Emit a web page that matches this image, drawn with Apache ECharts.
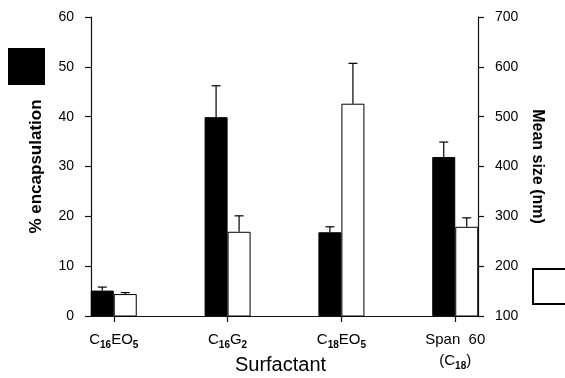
<!DOCTYPE html>
<html>
<head>
<meta charset="utf-8">
<script src="https://cdn.jsdelivr.net/npm/echarts@6/dist/echarts.min.js"></script>
<style>
  html, body { margin: 0; padding: 0; background: #fff; }
  #chart { width: 565px; height: 378px; }
</style>
</head>
<body>
<div id="chart"></div>
<script>
// category positions on the x value axis, and their labels (rich text for subscripts)
const positions = [0, 1, 2, 3];
const tickLabels = [
  '{n|C}{s|16}{n|EO}{s|5}',
  '{n|C}{s|16}{n|G}{s|2}',
  '{n|C}{s|18}{n|EO}{s|5}',
  '{n|Span  60}\n{n|(C}{s|18}{n|)}'
];

// % encapsulation (left axis) and upper error bar tips
const encapsulation = [5.1, 39.9, 16.8, 31.9];
const encapsulationErr = [5.8, 46.2, 17.9, 34.9];

// mean size in nm (right axis) and upper error bar tips
const meanSize = [144, 269, 526, 279];
const meanSizeErr = [147, 301, 607, 297];

const BAR_W = 23;
const font = '"Liberation Sans", Arial, sans-serif';

const chart = echarts.init(document.getElementById('chart'), null, { renderer: 'canvas' });

function errorBars(side) {
  return function (params, api) {
    const x = api.value(0);
    const base = api.coord([x, api.value(1)]);
    const tip = api.coord([x, api.value(2)]);
    const cx = base[0] + side * BAR_W / 2;
    const style = { stroke: '#000', lineWidth: 1.2 };
    return {
      type: 'group',
      children: [
        { type: 'line', shape: { x1: cx, y1: base[1], x2: cx, y2: tip[1] }, style },
        { type: 'line', shape: { x1: cx - 4.5, y1: tip[1], x2: cx + 4.5, y2: tip[1] }, style }
      ]
    };
  };
}

const axisLine = { show: true, onZero: false, lineStyle: { color: '#111', width: 1.2 } };
const axisTick = { show: true, length: 6, lineStyle: { color: '#111', width: 1.2 } };

chart.setOption({
  animation: false,
  backgroundColor: '#fff',
  textStyle: { fontFamily: font, color: '#000' },
  grid: { left: 91, right: 87, top: 17, bottom: 62, outerBoundsMode: 'none', containLabel: false },
  legend: [
    {
      data: ['% encapsulation'],
      left: 8, top: 48, padding: 0,
      icon: 'rect', itemWidth: 35, itemHeight: 35,
      formatter: () => '', selectedMode: false,
      textStyle: { fontSize: 1 }
    },
    {
      data: ['Mean size (nm)'],
      left: 532, top: 268, padding: 0,
      icon: 'rect', itemWidth: 35, itemHeight: 35,
      formatter: () => '', selectedMode: false,
      textStyle: { fontSize: 1 }
    }
  ],
  xAxis: {
    type: 'value',
    min: -0.2,
    max: 3.2,
    name: 'Surfactant',
    nameLocation: 'middle',
    nameGap: 39,
    nameMoveOverlap: false,
    nameTextStyle: { fontSize: 20, color: '#000', fontFamily: font, padding: [0, 8, 0, 0] },
    splitLine: { show: false },
    axisLine: { lineStyle: { color: '#111', width: 1.2 } },
    axisTick: { customValues: positions, length: 6, lineStyle: { color: '#111', width: 1.2 } },
    axisLabel: {
      customValues: positions,
      margin: 13,
      formatter: (v) => tickLabels[Math.round(v)],
      rich: {
        n: { fontSize: 15, color: '#000', fontFamily: font, lineHeight: 21, verticalAlign: 'middle' },
        s: { fontSize: 10, color: '#000', fontFamily: font, fontWeight: 'bold', lineHeight: 14, verticalAlign: 'bottom' }
      }
    }
  },
  yAxis: [
    {
      type: 'value',
      min: 0, max: 60, interval: 10,
      name: '% encapsulation',
      nameLocation: 'middle',
      nameRotate: 90,
      nameGap: 46,
      nameTextStyle: { fontSize: 17, fontWeight: 'bold', color: '#000', fontFamily: font },
      splitLine: { show: false },
      axisLine,
      axisTick,
      axisLabel: { fontSize: 14, color: '#000', margin: 17 }
    },
    {
      type: 'value',
      min: 100, max: 700, interval: 100,
      position: 'right',
      name: 'Mean size (nm)',
      nameLocation: 'middle',
      nameRotate: -90,
      nameGap: 50,
      nameTextStyle: { fontSize: 16, fontWeight: 'bold', color: '#000', fontFamily: font },
      splitLine: { show: false },
      axisLine,
      axisTick,
      axisLabel: { fontSize: 14, color: '#000', margin: 17 }
    }
  ],
  series: [
    {
      name: '% encapsulation',
      type: 'bar',
      yAxisIndex: 0,
      barWidth: BAR_W,
      barGap: '0%',
      itemStyle: { color: '#000', borderColor: '#000', borderWidth: 1 },
      data: positions.map((p, i) => [p, encapsulation[i]])
    },
    {
      name: 'Mean size (nm)',
      type: 'bar',
      yAxisIndex: 1,
      barWidth: BAR_W,
      barGap: '0%',
      itemStyle: { color: '#fff', borderColor: '#000', borderWidth: 1 },
      data: positions.map((p, i) => [p, meanSize[i]])
    },
    {
      type: 'custom',
      yAxisIndex: 0,
      renderItem: errorBars(-1),
      data: positions.map((p, i) => [p, encapsulation[i], encapsulationErr[i]]),
      z: 3
    },
    {
      type: 'custom',
      yAxisIndex: 1,
      renderItem: errorBars(1),
      data: positions.map((p, i) => [p, meanSize[i], meanSizeErr[i]]),
      z: 3
    }
  ]
});
</script>
</body>
</html>
